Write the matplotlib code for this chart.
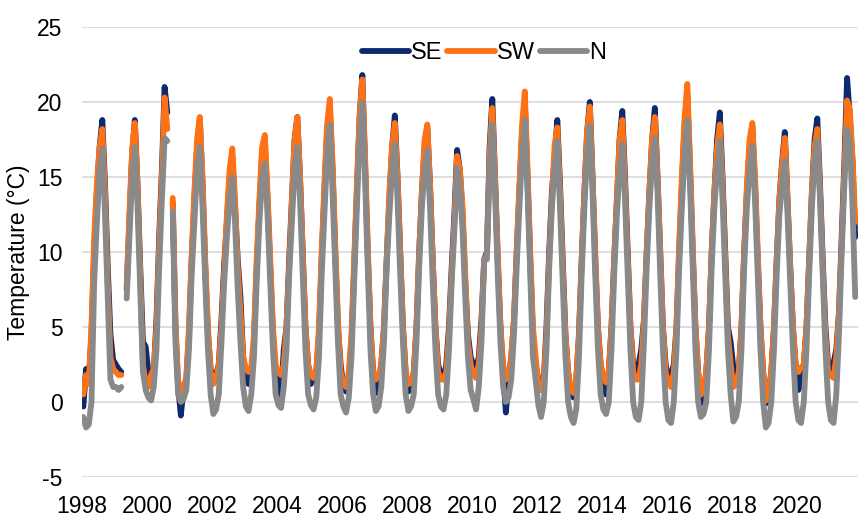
import numpy as np
import matplotlib
matplotlib.use("Agg")
import matplotlib.pyplot as plt

# -------------------------------------------------------
# Datos mensuales (valor a mitad de cada mes), 1998-01 .. 2021-10
# nan = hueco en la serie
# -------------------------------------------------------
nan = np.nan

se = [
    -0.3, 2.2, 1.5, 4.5, 10.0, 14.0, 17.0, 18.8, 14.5, 9.0, 4.5, 2.8,    # 1998
    2.5, 2.2, 2.0, nan, 7.5, 12.0, 16.5, 18.8, 14.5, 9.0, 4.0, 3.7,      # 1999
    2.0, 1.5, 2.0, 5.5, 11.0, 15.5, 21.0, 19.3, nan, 13.3, 5.0, 1.0,     # 2000
    -0.9, 1.0, 1.5, 4.5, 9.5, 13.5, 17.0, 18.9, 14.5, 9.0, 4.5, 2.2,     # 2001
    1.5, 1.8, 2.5, 5.5, 9.2, 12.0, 15.0, 16.3, 13.0, 9.5, 7.0, 3.0,      # 2002
    1.8, 1.2, 1.5, 4.0, 9.0, 13.0, 16.5, 17.2, 13.5, 9.0, 4.5, 2.0,      # 2003
    0.4, 0.3, 3.5, 5.0, 9.5, 13.5, 17.5, 19.0, 15.0, 10.0, 5.0, 2.5,     # 2004
    1.2, 1.5, 2.0, 4.5, 9.5, 14.0, 18.0, 19.5, 15.5, 10.0, 5.0, 2.5,     # 2005
    1.0, 0.7, 1.5, 4.0, 9.0, 14.0, 19.0, 21.8, 16.0, 10.0, 5.0, 2.0,     # 2006
    0.6, 1.2, 2.5, 5.0, 9.5, 13.5, 17.0, 19.1, 15.0, 10.0, 5.0, 2.0,     # 2007
    0.7, 1.0, 2.0, 5.0, 10.0, 14.0, 17.0, 18.3, 14.5, 9.5, 5.0, 2.5,     # 2008
    1.8, 1.5, 2.5, 5.0, 9.0, 12.5, 16.8, 15.5, 12.5, 8.0, 4.5, 3.0,      # 2009
    2.5, 2.2, 3.0, 5.5, 9.5, 10.0, 17.0, 20.2, 15.0, 9.5, 5.0, 2.0,      # 2010
    -0.7, 1.5, 3.0, 5.5, 10.0, 14.0, 18.0, 20.0, 15.0, 9.5, 4.5, 2.5,    # 2011
    1.5, 0.8, 1.5, 5.0, 10.0, 14.0, 16.3, 18.8, 14.5, 9.5, 4.5, 2.0,     # 2012
    0.5, 0.3, 1.5, 4.5, 9.5, 14.0, 18.0, 20.0, 15.0, 9.5, 5.0, 2.5,      # 2013
    1.2, 0.5, 2.0, 5.0, 9.5, 13.5, 17.5, 19.4, 15.0, 10.0, 5.0, 2.5,     # 2014
    2.0, 2.5, 3.5, 5.5, 10.0, 14.0, 17.5, 19.6, 15.0, 10.0, 5.0, 2.5,    # 2015
    1.5, 1.8, 2.5, 5.0, 10.0, 14.5, 18.5, 20.5, 15.5, 10.0, 5.0, 2.0,    # 2016
    -0.1, 0.5, 2.0, 5.0, 10.0, 14.0, 17.5, 19.3, 15.0, 10.0, 5.0, 4.0,   # 2017
    2.3, 1.5, 2.0, 5.0, 10.0, 14.0, 17.0, 18.4, 14.5, 9.5, 5.0, 2.0,     # 2018
    -0.1, 0.5, 2.0, 5.0, 9.5, 13.5, 16.0, 18.0, 13.5, 9.0, 5.0, 2.5,     # 2019
    0.8, 1.5, 2.5, 5.0, 9.5, 14.0, 17.5, 18.9, 14.5, 9.5, 5.0, 2.5,      # 2020
    2.0, 2.6, 3.5, 6.0, 11.0, 16.0, 21.6, 19.0, 16.0, 11.0,              # 2021
]

sw = [
    0.5, 1.8, 1.2, 5.0, 11.0, 14.5, 17.0, 18.2, 14.0, 8.0, 3.0, 2.2,     # 1998
    2.0, 1.8, 1.8, nan, 7.8, 12.5, 16.8, 18.6, 14.5, 8.5, 2.5, 1.2,      # 1999
    1.0, 1.8, 2.2, 5.0, 10.5, 15.0, 20.3, 18.2, nan, 13.6, 5.5, 1.2,     # 2000
    0.5, 1.2, 1.5, 5.0, 9.8, 14.0, 17.5, 19.0, 15.0, 9.5, 5.0, 2.0,      # 2001
    1.2, 1.5, 2.5, 5.0, 8.8, 12.5, 15.5, 16.9, 13.5, 9.0, 6.0, 3.0,      # 2002
    2.2, 2.0, 2.3, 4.5, 9.5, 13.5, 17.0, 17.8, 14.0, 9.5, 5.0, 2.5,      # 2003
    2.0, 1.8, 2.5, 5.0, 9.0, 13.5, 17.5, 19.0, 15.0, 10.0, 5.0, 2.5,     # 2004
    1.8, 1.6, 2.0, 5.0, 10.0, 14.5, 18.5, 20.2, 16.0, 10.5, 5.5, 2.0,    # 2005
    1.2, 1.0, 2.0, 4.5, 9.5, 14.5, 19.0, 21.5, 16.5, 10.5, 5.0, 2.0,     # 2006
    1.5, 1.8, 2.5, 5.0, 9.5, 14.0, 17.0, 18.6, 15.0, 10.0, 5.0, 2.0,     # 2007
    1.2, 1.3, 2.0, 5.0, 10.0, 14.0, 17.5, 18.5, 14.5, 9.5, 5.0, 2.0,     # 2008
    1.5, 1.5, 2.0, 4.5, 8.5, 12.0, 16.4, 15.5, 13.0, 8.5, 4.0, 2.5,      # 2009
    1.8, 1.6, 2.5, 5.0, 9.5, 9.8, 16.5, 19.6, 15.0, 10.0, 5.0, 2.5,      # 2010
    1.5, 1.8, 3.0, 5.5, 10.0, 14.5, 18.5, 20.7, 15.5, 10.0, 5.0, 3.0,    # 2011
    1.0, 0.8, 1.5, 4.5, 9.5, 13.5, 17.1, 18.3, 14.0, 9.0, 4.5, 2.0,      # 2012
    0.8, 0.6, 1.5, 4.5, 9.5, 14.0, 18.0, 19.7, 15.0, 10.0, 5.0, 2.5,     # 2013
    1.8, 1.3, 2.0, 5.0, 9.5, 13.5, 17.5, 18.8, 14.5, 9.5, 5.0, 2.0,      # 2014
    1.5, 1.5, 2.5, 5.5, 10.0, 14.0, 17.5, 19.0, 15.0, 10.0, 5.0, 2.0,    # 2015
    1.2, 1.0, 2.0, 5.0, 10.5, 15.0, 19.0, 21.2, 16.0, 10.5, 5.0, 2.0,    # 2016
    0.5, 0.8, 2.0, 5.0, 10.0, 14.0, 17.0, 18.5, 14.5, 9.5, 4.5, 2.5,     # 2017
    1.0, 1.2, 2.0, 5.0, 10.0, 14.5, 17.5, 18.6, 15.0, 10.0, 5.0, 2.0,    # 2018
    0.1, 0.5, 2.0, 5.0, 9.5, 13.5, 15.8, 17.6, 13.5, 9.0, 5.0, 2.5,      # 2019
    2.0, 2.3, 2.5, 5.0, 9.5, 14.0, 17.0, 18.2, 14.0, 9.0, 4.5, 2.0,      # 2020
    1.8, 1.6, 3.0, 6.0, 10.5, 15.5, 20.1, 19.5, 16.3, 12.0,              # 2021
]

n = [
    -1.0, -1.7, -1.5, 0.0, 8.0, 12.0, 15.5, 16.9, 12.5, 7.0, 1.5, 1.0,   # 1998
    1.0, 0.8, 1.0, nan, 6.9, 11.0, 15.0, 17.0, 13.0, 7.5, 2.0, 0.8,      # 1999
    0.3, 0.1, 1.0, 3.5, 9.0, 13.5, 17.6, 17.4, nan, 12.7, 4.0, 0.5,      # 2000
    0.0, 0.2, 0.8, 3.5, 8.5, 12.0, 15.5, 17.0, 13.0, 8.0, 3.5, 0.5,      # 2001
    -0.8, -0.5, 0.5, 4.0, 8.0, 11.0, 13.5, 15.0, 12.0, 7.5, 4.0, 1.0,    # 2002
    -0.3, -0.6, 0.5, 3.0, 8.0, 12.0, 15.0, 15.9, 12.5, 8.0, 3.5, 0.5,    # 2003
    -0.2, -0.4, 1.0, 3.5, 8.5, 12.0, 15.5, 17.0, 13.5, 8.5, 3.5, 0.5,    # 2004
    -0.2, -0.5, 0.3, 3.0, 8.5, 12.5, 16.5, 18.5, 14.0, 9.0, 4.0, 0.5,    # 2005
    -0.3, -0.7, 0.3, 3.0, 8.0, 13.0, 17.5, 20.0, 15.0, 9.0, 3.5, 0.5,    # 2006
    -0.6, -0.3, 1.0, 4.0, 9.0, 12.5, 15.5, 17.2, 13.5, 8.5, 4.0, 0.5,    # 2007
    -0.6, -0.3, 0.5, 4.0, 9.0, 13.0, 15.5, 16.8, 13.0, 8.0, 3.5, 0.5,    # 2008
    -0.3, -0.5, 0.5, 3.5, 8.0, 11.5, 15.6, 14.5, 11.5, 7.0, 3.0, 0.8,    # 2009
    0.2, -0.5, 1.0, 4.0, 9.5, 9.5, 15.5, 18.5, 14.0, 8.5, 4.0, 1.0,      # 2010
    0.0, 0.3, 1.5, 4.5, 9.0, 13.0, 16.5, 18.8, 14.0, 8.5, 3.0, 1.5,      # 2011
    -0.2, -1.0, 0.0, 3.5, 9.0, 13.0, 15.5, 17.4, 13.0, 8.0, 3.0, 0.0,    # 2012
    -1.0, -1.4, -0.5, 3.0, 8.5, 13.0, 16.5, 18.4, 14.0, 8.5, 3.5, 0.5,   # 2013
    -0.5, -0.8, 0.0, 3.5, 8.5, 12.5, 15.5, 17.2, 13.5, 8.5, 3.5, 0.0,    # 2014
    -1.0, -1.2, 0.0, 4.0, 9.0, 13.0, 16.0, 17.6, 14.0, 8.5, 3.5, 0.0,    # 2015
    -1.2, -1.4, 0.0, 3.5, 9.0, 13.0, 16.5, 18.8, 14.5, 9.0, 3.5, 0.0,    # 2016
    -1.0, -0.8, 0.0, 3.5, 9.0, 13.0, 15.5, 17.4, 13.5, 8.5, 3.5, 0.5,    # 2017
    -1.3, -1.0, 0.0, 3.5, 9.0, 13.0, 15.5, 17.1, 13.5, 8.5, 3.5, 0.0,    # 2018
    -1.7, -1.4, 0.0, 3.5, 8.5, 12.5, 14.5, 16.1, 12.5, 8.0, 3.5, 0.0,    # 2019
    -1.2, -1.4, 0.0, 3.5, 8.5, 13.0, 16.0, 17.4, 13.5, 8.5, 3.5, 0.0,    # 2020
    -1.2, -1.4, 0.5, 4.5, 10.0, 14.5, 18.2, 17.5, 13.0, 7.0,             # 2021
]

# posición de cada mes en años decimales (mitad de mes)
fechas = 1998 + (np.arange(len(se)) + 0.5) / 12

series = [("SE", se, "#0C2A6E"), ("SW", sw, "#FF7115"), ("N", n, "#898989")]
anios = list(range(1998, 2021, 2))

# -------------------------------------------------------
# Gráfica
# -------------------------------------------------------
plt.rcParams["font.family"] = ["Liberation Sans", "DejaVu Sans"]
plt.rcParams["axes.unicode_minus"] = False   # "-5" con guion normal, como Excel

fig = plt.figure(figsize=(8.58, 5.18), dpi=100)
ax = fig.add_axes([82 / 858, 1 - 477 / 518, 1 - 82 / 858, 450 / 518])

for nombre, vals, color in series:
    ax.plot(fechas, vals, color=color, lw=4.2, label=nombre,
            solid_capstyle="round", solid_joinstyle="round")

ax.set_xlim(1998, 1998 + (858 - 82) / 32.5)
ax.set_ylim(-5, 25)
ax.set_yticks(range(-5, 26, 5))
ax.set_xticks(anios)
ax.set_xticklabels([str(a) for a in anios])

ax.grid(axis="y", color="#D9D9D9", lw=1.2)
ax.set_axisbelow(True)
for s in ax.spines.values():
    s.set_visible(False)
ax.tick_params(axis="both", length=0, labelsize=16.5)
ax.tick_params(axis="x", pad=13)
ax.tick_params(axis="y", pad=14)

ax.set_ylabel("Temperature (°C)", fontsize=16.5, labelpad=5)

ax.legend(loc="center", bbox_to_anchor=(0.518, 0.942), ncol=3, frameon=False,
          fontsize=17, handlelength=2.0, handletextpad=0.1, columnspacing=0.2,
          borderaxespad=0)

fig.savefig("out.png", dpi=100)
